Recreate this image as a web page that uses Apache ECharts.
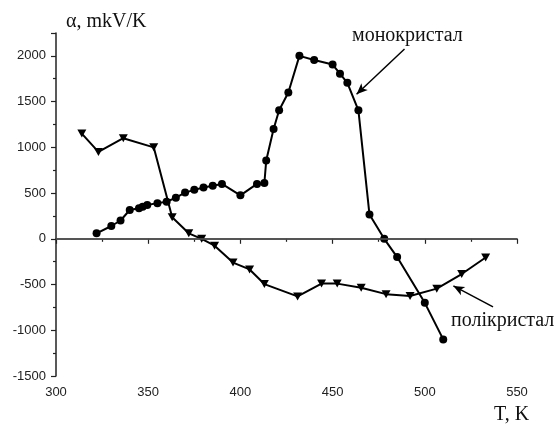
<!DOCTYPE html>
<html>
<head>
<meta charset="utf-8">
<script src="https://cdn.jsdelivr.net/npm/echarts@6/dist/echarts.min.js"></script>
<style>
  html, body { margin: 0; padding: 0; background: #fff; }
  #chart { width: 558px; height: 428px; }
</style>
</head>
<body>
<div id="chart"></div>
<script>
// monocrystal (circles)
var monoT = [322, 330, 335, 340, 345, 347, 349.5, 355, 360, 365, 370, 375, 380, 385, 390, 400, 409, 413, 414, 418, 421, 426, 432, 440, 450, 454, 458, 464, 470, 478, 485, 500, 510];
var monoA = [60, 140, 200, 315, 335, 350, 370, 390, 405, 450, 505, 535, 560, 580, 600, 475, 600, 610, 855, 1200, 1405, 1600, 2000, 1955, 1905, 1805, 1705, 1405, 265, 0, -200, -700, -1100];
// polycrystal (triangles)
var polyT = [314, 323, 336.5, 353, 363, 372, 379, 386, 396, 405, 413, 431, 444, 452.5, 465.5, 479, 492, 506.5, 520, 533];
var polyA = [1150, 950, 1100, 1000, 235, 60, 0, -75, -260, -335, -495, -630, -490, -490, -535, -605, -625, -545, -385, -205];
// annotation arrows [from, to] in data units
var monoArrow = [[489, 2075], [463, 1580]];
var polyArrow = [[537, -745], [515.5, -515]];

function pairs(xs, ys) {
    return xs.map(function (x, i) { return [x, ys[i]]; });
}

var serif = '"Liberation Serif", "DejaVu Serif", serif';
var sans = '"Liberation Sans", Arial, sans-serif';
var chart = echarts.init(document.getElementById('chart'));

chart.setOption({
    animation: false,
    backgroundColor: '#fff',
    grid: { left: 56, right: 41, top: 33, bottom: 52 },
    xAxis: {
        type: 'value', min: 300, max: 550, interval: 50,
        axisLine: { lineStyle: { color: '#222', width: 1.5 } },
        axisTick: { length: 5, lineStyle: { color: '#222', width: 1.2 } },
        minorTick: { show: true, splitNumber: 2, length: 3, lineStyle: { color: '#222', width: 1.2 } },
        splitLine: { show: false },
        axisLabel: { fontFamily: sans, fontSize: 13, color: '#222', margin: 10, formatter: function (v) { return String(v); } }
    },
    yAxis: {
        type: 'value', min: -1500, max: 2250, interval: 500,
        name: 'α, mkV/K', nameLocation: 'end', nameGap: 1,
        nameTextStyle: { fontFamily: serif, fontSize: 20, color: '#111', align: 'left', padding: [0, 0, 0, 10] },
        axisLine: { show: true, lineStyle: { color: '#222', width: 1.5 } },
        axisTick: { show: true, length: 5, lineStyle: { color: '#222', width: 1.2 } },
        minorTick: { show: true, splitNumber: 2, length: 3, lineStyle: { color: '#222', width: 1.2 } },
        splitLine: { show: false },
        axisLabel: { showMaxLabel: false, fontFamily: sans, fontSize: 13, color: '#222', margin: 10, formatter: function (v) { return String(v); } }
    },
    series: [
        {
            name: 'монокристал', type: 'line', data: pairs(monoT, monoA),
            symbol: 'circle', symbolSize: 8, showAllSymbol: true,
            lineStyle: { color: '#000', width: 2 }, itemStyle: { color: '#000' },
            markLine: {
                silent: true, symbol: ['none', 'arrow'], symbolSize: [7, 11],
                label: { show: false },
                lineStyle: { color: '#000', width: 1.5, type: 'solid' },
                data: [
                    [{ coord: monoArrow[0] }, { coord: monoArrow[1] }],
                    [{ coord: polyArrow[0] }, { coord: polyArrow[1] }]
                ]
            }
        },
        {
            name: 'полікристал', type: 'line', data: pairs(polyT, polyA),
            symbol: 'triangle', symbolRotate: 180, symbolSize: [9, 8], showAllSymbol: true,
            lineStyle: { color: '#000', width: 2 }, itemStyle: { color: '#000' },
            markLine: {
                silent: true, symbol: ['none', 'none'],
                label: { show: false },
                lineStyle: { color: '#555', width: 1.5, type: 'solid' },
                data: [{ yAxis: 0 }]
            }
        }
    ],
    graphic: [
        { type: 'text', left: 352, top: 26, style: { text: 'монокристал', font: '20px ' + serif, fill: '#111' } },
        { type: 'text', left: 451, top: 311, style: { text: 'полікристал', font: '20px ' + serif, fill: '#111' } },
        { type: 'text', left: 494, top: 405, style: { text: 'T, K', font: '20px ' + serif, fill: '#111' } }
    ]
});
</script>
</body>
</html>
